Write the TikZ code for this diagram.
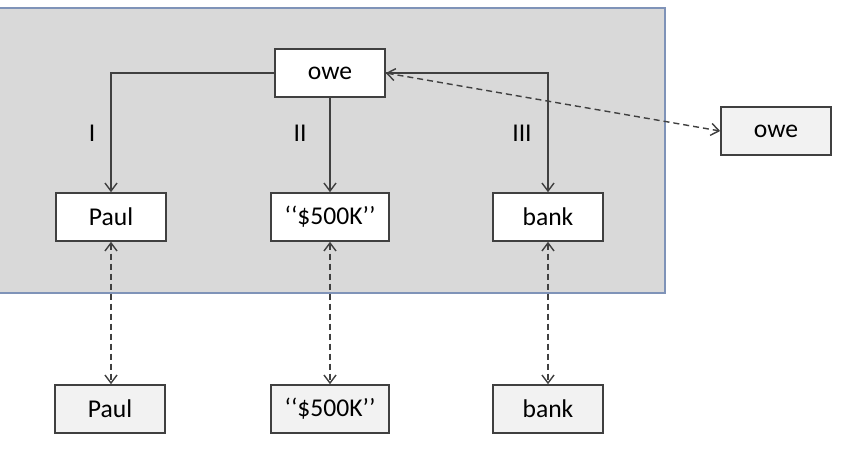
\documentclass[tikz,border=0pt]{standalone}
\usepackage{fontspec}
\setmainfont{Carlito}
\usetikzlibrary{arrows.meta}
\definecolor{panelfill}{HTML}{D9D9D9}
\definecolor{panelline}{HTML}{7F93B8}
\definecolor{boxline}{HTML}{404040}
\definecolor{lightfill}{HTML}{F2F2F2}
\tikzset{
  ent/.style={draw=boxline, line width=0.8pt, fill=white, minimum width=55pt, minimum height=24pt, inner sep=0pt, font=\fontsize{12.8}{15}\selectfont},
  entlight/.style={ent, fill=lightfill},
  link/.style={draw=boxline, line width=0.7pt, -{Straight Barb[length=4pt,width=6pt]}},
  dlink/.style={draw=boxline, line width=0.7pt, dashed, dash pattern=on 3pt off 2pt, {Straight Barb[length=4pt,width=6pt]}-{Straight Barb[length=4pt,width=6pt]}},
  lab/.style={font=\fontsize{12.8}{15}\selectfont, inner sep=0pt}
}
\begin{document}
\begin{tikzpicture}[x=0.5pt,y=-0.5pt]
\useasboundingbox (0,0) rectangle (841,452);
\fill[white] (0,0) rectangle (841,452);
\draw[fill=panelfill, draw=panelline, line width=0.8pt] (-5,8) rectangle (665,293);
\node[ent] (owe) at (330,73) {owe};
\node[ent] (paul) at (111,217) {Paul};
\node[ent, minimum width=59pt] (usd) at (330,217) {‘‘\$500K’’};
\node[ent] (bank) at (548,217) {bank};
\node[entlight] (owe2) at (776,131) {owe};
\node[entlight] (paul2) at (110,409) {Paul};
\node[entlight, minimum width=59pt] (usd2) at (330,409) {‘‘\$500K’’};
\node[entlight] (bank2) at (548,409) {bank};
\draw[link] (owe.west) -| (paul.north);
\draw[link] (owe.south) -- (usd.north);
\draw[link] (owe.east) -| (bank.north);
\node[lab] (l1) at (92,133) {I};
\node[lab] (l2) at (300,133) {II};
\node[lab] (l3) at (522,133) {III};
\draw[dlink] (owe.east) -- (owe2.west);
\draw[dlink] (paul.south) -- (paul.south |- paul2.north);
\draw[dlink] (usd.south) -- (usd2.north);
\draw[dlink] (bank.south) -- (bank2.north);
\end{tikzpicture}
\end{document}
